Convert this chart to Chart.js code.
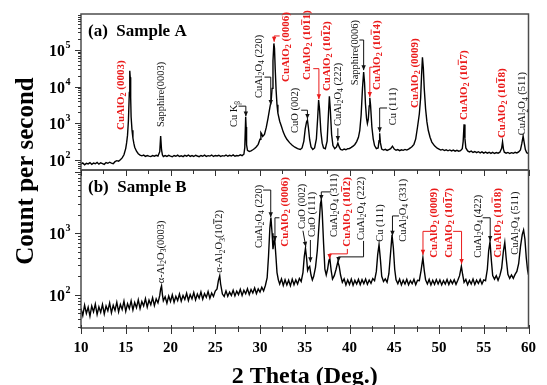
<!DOCTYPE html>
<html>
<head>
<meta charset="utf-8">
<script src="https://cdn.jsdelivr.net/npm/chart.js@4.4.1/dist/chart.umd.min.js"></script>
<style>
  body { margin: 0; background: #fff; }
  canvas { display: block; }
</style>
</head>
<body>
<canvas id="xrd" width="547" height="385"></canvas>
<script>
const FONT = '"Liberation Serif", "Times New Roman", serif';
const RED = '#ea1b1b';

// Sample A spectrum (2 theta, counts per second)
const thetaA = [
  10.0, 10.2, 10.4, 10.6, 10.8, 11.0, 11.2, 11.4, 11.6, 11.8, 12.0, 12.2, 12.4, 12.6, 12.8, 13.0, 13.2, 13.4, 13.6, 13.8,
  14.0, 14.2, 14.4, 14.6, 14.8, 15.0, 15.1, 15.2, 15.3, 15.4, 15.45, 15.5, 15.55, 15.6, 15.7, 15.8, 15.9, 16.0, 16.2, 16.4,
  16.6, 16.8, 17.0, 17.2, 17.4, 17.6, 17.8, 18.0, 18.2, 18.4, 18.6, 18.8, 18.9, 19.0, 19.1, 19.2, 19.4, 19.6, 19.8, 20.0,
  20.2, 20.4, 20.6, 20.8, 21.0, 21.2, 21.4, 21.6, 21.8, 22.0, 22.2, 22.4, 22.6, 22.8, 23.0, 23.2, 23.4, 23.6, 23.8, 24.0,
  24.2, 24.4, 24.6, 24.8, 25.0, 25.2, 25.4, 25.6, 25.8, 26.0, 26.2, 26.4, 26.6, 26.8, 27.0, 27.2, 27.4, 27.6, 27.8, 28.0,
  28.2, 28.3, 28.4, 28.45, 28.5, 28.6, 28.8, 29.0, 29.2, 29.4, 29.6, 29.8, 30.0, 30.1, 30.2, 30.3, 30.5, 30.7, 30.9, 31.1,
  31.25, 31.35, 31.45, 31.55, 31.62, 31.7, 31.8, 31.9, 32.0, 32.2, 32.4, 32.6, 32.8, 33.0, 33.3, 33.6, 33.9, 34.2, 34.5, 34.7,
  34.9, 35.05, 35.2, 35.3, 35.4, 35.55, 35.7, 35.9, 36.1, 36.3, 36.45, 36.55, 36.65, 36.8, 36.95, 37.1, 37.3, 37.5, 37.65, 37.75,
  37.85, 38.0, 38.15, 38.35, 38.55, 38.7, 38.85, 39.0, 39.2, 39.4, 39.6, 39.8, 40.0, 40.2, 40.4, 40.6, 40.8, 41.0, 41.15, 41.3,
  41.45, 41.58, 41.68, 41.78, 41.9, 42.0, 42.1, 42.2, 42.27, 42.35, 42.5, 42.65, 42.8, 43.0, 43.2, 43.3, 43.37, 43.45, 43.6, 43.8,
  44.0, 44.2, 44.4, 44.6, 44.8, 45.0, 45.2, 45.4, 45.6, 45.8, 46.0, 46.2, 46.4, 46.6, 46.8, 47.0, 47.2, 47.4, 47.6, 47.8,
  47.95, 48.05, 48.15, 48.25, 48.35, 48.5, 48.65, 48.8, 49.0, 49.2, 49.5, 49.8, 50.0, 50.2, 50.4, 50.6, 50.8, 51.0, 51.2, 51.4,
  51.6, 51.8, 52.0, 52.2, 52.4, 52.6, 52.7, 52.8, 52.9, 53.0, 53.2, 53.4, 53.6, 53.8, 54.0, 54.2, 54.4, 54.6, 54.8, 55.0,
  55.2, 55.4, 55.6, 55.8, 56.0, 56.2, 56.4, 56.6, 56.8, 57.0, 57.1, 57.2, 57.3, 57.5, 57.7, 57.9, 58.1, 58.3, 58.5, 58.7,
  58.9, 59.1, 59.25, 59.4, 59.5, 59.65, 59.8, 60.0
];
const countA = [
  78, 84, 75, 82, 79, 86, 77, 83, 80, 87, 78, 85, 81, 77, 86, 82, 88, 83, 80, 91,
  97, 94, 103, 115, 140, 210, 300, 480, 1200, 7000, 27000, 18000, 5000, 1500, 650, 400, 290, 225, 175, 150,
  138, 131, 137, 127, 134, 129, 125, 133, 128, 136, 130, 170, 450, 190, 138, 126, 133, 127, 135, 129,
  124, 134, 128, 137, 126, 132, 125, 135, 129, 138, 127, 133, 126, 136, 130, 125, 134, 128, 137, 127,
  133, 129, 138, 126, 134, 130, 136, 127, 133, 129, 138, 128, 135, 130, 139, 128, 134, 131, 140, 133,
  145, 220, 1500, 800, 260, 185, 172, 180, 192, 208, 232, 270, 370, 560, 510, 440, 500, 780, 1400, 2700,
  4200, 9000, 50000, 150000, 110000, 30000, 8000, 3200, 1900, 1150, 820, 580, 450, 370, 300, 255, 225, 205, 195, 215,
  330, 700, 1100, 1230, 800, 360, 230, 195, 215, 380, 1500, 4300, 2500, 600, 290, 215, 205, 330, 1800, 5500,
  2500, 500, 250, 205, 230, 290, 230, 196, 188, 200, 192, 205, 208, 222, 240, 268, 320, 420, 650, 1700,
  9000, 25000, 13000, 3500, 1400, 1000, 1300, 3000, 5000, 3200, 800, 380, 250, 205, 215, 340, 540, 300, 200, 188,
  197, 184, 195, 205, 240, 200, 186, 194, 182, 192, 185, 196, 188, 200, 215, 235, 270, 380, 800, 1800,
  5000, 20000, 63000, 32000, 9000, 2500, 1100, 650, 420, 310, 245, 212, 200, 188, 196, 183, 192, 180, 190, 178,
  188, 176, 186, 175, 182, 205, 320, 940, 380, 215, 178, 168, 176, 162, 172, 160, 170, 158, 168, 156,
  166, 155, 164, 153, 163, 152, 161, 155, 165, 210, 315, 200, 165, 155, 162, 152, 160, 154, 163, 157,
  168, 190, 280, 450, 320, 195, 160, 150
];

// Sample B spectrum
const thetaB = [
  10.0, 10.2, 10.4, 10.6, 10.8, 11.0, 11.2, 11.4, 11.6, 11.8, 12.0, 12.2, 12.4, 12.6, 12.8, 13.0, 13.2, 13.4, 13.6, 13.8,
  14.0, 14.2, 14.4, 14.6, 14.8, 15.0, 15.2, 15.4, 15.6, 15.8, 16.0, 16.2, 16.4, 16.6, 16.8, 17.0, 17.2, 17.4, 17.6, 17.8,
  18.0, 18.2, 18.4, 18.6, 18.8, 18.9, 19.0, 19.1, 19.2, 19.4, 19.6, 19.8, 20.0, 20.2, 20.4, 20.6, 20.8, 21.0, 21.2, 21.4,
  21.6, 21.8, 22.0, 22.2, 22.4, 22.6, 22.8, 23.0, 23.2, 23.4, 23.6, 23.8, 24.0, 24.2, 24.4, 24.6, 24.8, 25.0, 25.2, 25.35,
  25.5, 25.6, 25.8, 26.0, 26.2, 26.4, 26.6, 26.8, 27.0, 27.2, 27.4, 27.6, 27.8, 28.0, 28.2, 28.4, 28.6, 28.8, 29.0, 29.2,
  29.4, 29.6, 29.8, 30.0, 30.2, 30.4, 30.6, 30.8, 30.95, 31.1, 31.22, 31.35, 31.45, 31.55, 31.65, 31.78, 31.9, 32.05, 32.2, 32.4,
  32.6, 32.8, 33.0, 33.2, 33.4, 33.6, 33.8, 34.0, 34.2, 34.4, 34.6, 34.8, 34.95, 35.08, 35.2, 35.32, 35.45, 35.55, 35.7, 35.85,
  36.0, 36.2, 36.4, 36.6, 36.75, 36.85, 36.95, 37.1, 37.25, 37.4, 37.55, 37.7, 37.8, 37.95, 38.1, 38.3, 38.5, 38.7, 38.85, 39.0,
  39.2, 39.4, 39.6, 39.8, 40.0, 40.2, 40.4, 40.6, 40.8, 41.0, 41.2, 41.4, 41.6, 41.8, 42.0, 42.2, 42.4, 42.6, 42.8, 43.0,
  43.15, 43.3, 43.45, 43.6, 43.8, 44.0, 44.2, 44.4, 44.6, 44.75, 44.9, 45.05, 45.2, 45.4, 45.6, 45.8, 46.0, 46.2, 46.4, 46.6,
  46.8, 47.0, 47.2, 47.4, 47.6, 47.8, 48.0, 48.2, 48.35, 48.5, 48.7, 48.9, 49.1, 49.3, 49.5, 49.7, 49.9, 50.1, 50.3, 50.5,
  50.7, 50.9, 51.1, 51.3, 51.5, 51.7, 51.9, 52.1, 52.3, 52.5, 52.65, 52.8, 53.0, 53.2, 53.4, 53.6, 53.8, 54.0, 54.2, 54.4,
  54.6, 54.8, 55.0, 55.2, 55.4, 55.55, 55.7, 55.85, 56.0, 56.2, 56.4, 56.6, 56.8, 57.0, 57.2, 57.35, 57.5, 57.7, 57.9, 58.1,
  58.3, 58.5, 58.7, 58.9, 59.1, 59.3, 59.45, 59.6, 59.75, 59.9, 60.0
];
const countB = [
  60, 46, 68, 50, 63, 45, 66, 53, 71, 48, 64, 52, 70, 49, 66, 55, 74, 51, 68, 56,
  76, 53, 70, 58, 79, 54, 72, 60, 80, 57, 75, 62, 83, 60, 78, 66, 87, 63, 82, 69,
  90, 67, 86, 74, 98, 125, 140, 100, 80, 93, 73, 96, 78, 100, 76, 95, 81, 103, 79, 98,
  84, 106, 81, 101, 86, 109, 83, 103, 88, 111, 85, 105, 91, 113, 88, 107, 94, 115, 125, 170,
  204, 150, 103, 94, 116, 95, 111, 98, 119, 96, 115, 101, 123, 98, 119, 104, 126, 101, 122, 107,
  129, 105, 125, 111, 133, 116, 142, 190, 420, 1200, 1800, 1000, 550, 700, 780, 420, 230, 175, 150, 182,
  142, 176, 145, 173, 140, 180, 146, 175, 150, 185, 165, 230, 420, 570, 400, 250, 280, 290, 210, 175,
  200, 280, 520, 1400, 3000, 3470, 2200, 700, 260, 210, 260, 360, 390, 250, 180, 205, 260, 345, 290, 210,
  160, 182, 145, 175, 148, 180, 143, 172, 150, 178, 146, 176, 152, 181, 148, 174, 154, 184, 170, 240,
  450, 650, 380, 200, 165, 182, 160, 220, 500, 940, 580, 260, 175, 152, 180, 145, 172, 150, 178, 146,
  170, 152, 179, 146, 172, 170, 250, 400, 250, 175, 150, 178, 145, 172, 148, 177, 150, 175, 145, 170,
  150, 178, 147, 173, 152, 176, 148, 172, 205, 290, 210, 160, 178, 146, 172, 150, 180, 147, 173, 153,
  178, 150, 175, 170, 260, 520, 730, 360, 205, 180, 205, 172, 205, 270, 520, 710, 400, 215, 185, 210,
  185, 215, 240, 320, 600, 950, 1130, 800, 400, 250, 210
];

// axis ranges and labelled decades
const rangeA = [54, 950000];
const rangeB = [29, 10600];
const powsA = [2, 3, 4, 5];
const powsB = [2, 3];
const thetaTicks = [10, 15, 20, 25, 30, 35, 40, 45, 50, 55, 60];

// peak labels: x = 2theta, y = log10(count) of the text start; path = arrow in (2theta, log10)
const labelsA = [
  { t: 'CuAlO_2 (0003)', x: 14.51, y: 2.82, red: 1 },
  { t: 'Sapphire(0003)', x: 18.97, y: 2.90 },
  { t: 'Cu K_β', x: 27.16, y: 2.90, path: [[27.6, 3.47], [28.42, 3.47], [28.42, 3.19]] },
  { t: 'CuAl_2O_4 (220)', x: 29.91, y: 3.69, path: [[30.5, 4.26], [31.2, 4.26], [31.2, 3.5]] },
  { t: 'CuAlO_2 (0006)', x: 32.88, y: 4.13, red: 1, path: [[32.2, 5.38], [31.58, 5.38], [31.58, 5.22]] },
  { t: 'CuO (002)', x: 33.98, y: 2.74, path: [[34.6, 3.36], [35.3, 3.36], [35.3, 3.12]] },
  { t: 'CuAlO_2 (10~11)', x: 35.3, y: 4.18, red: 1, path: [[35.95, 4.49], [36.58, 4.49], [36.58, 3.66]] },
  { t: 'CuAlO_2 (10~12)', x: 37.5, y: 3.88, red: 1 },
  { t: 'CuAl_2O_4 (222)', x: 38.7, y: 2.93, path: [[38.7, 2.87], [38.7, 2.52]] },
  { t: 'Sapphire(0006)', x: 40.69, y: 4.04, path: [[41.1, 5.27], [41.58, 5.27], [41.58, 4.45]] },
  { t: 'CuAlO_2 (10~14)', x: 43.06, y: 3.91, red: 1, path: [[42.6, 4.53], [42.27, 4.53], [42.27, 3.72]] },
  { t: 'Cu (111)', x: 44.87, y: 2.95, path: [[44.2, 3.42], [43.37, 3.42], [43.37, 2.76]] },
  { t: 'CuAlO_2 (0009)', x: 47.29, y: 3.42, red: 1 },
  { t: 'CuAlO_2 (10~17)', x: 52.79, y: 3.09, red: 1 },
  { t: 'CuAlO_2 (10~18)', x: 57.08, y: 2.60, red: 1 },
  { t: 'CuAl_2O_4 (511)', x: 59.34, y: 2.68 }
];
const labelsB = [
  { t: 'α-Al_2O_3(0003)', x: 18.94, y: 2.19 },
  { t: 'α-Al_2O_3(10~12)', x: 25.48, y: 2.36 },
  { t: 'CuAl_2O_4 (220)', x: 29.88, y: 2.76, path: [[30.35, 3.70], [31.2, 3.70], [31.2, 3.26]] },
  { t: 'CuAlO_2 (0006)', x: 32.77, y: 2.78, red: 1, black: 1, path: [[32.17, 3.25], [31.67, 3.25], [31.67, 2.875]] },
  { t: 'CuO (002)', x: 34.75, y: 3.07, path: [[34.8, 3.04], [35.12, 2.78]] },
  { t: 'CuO (111)', x: 35.85, y: 2.94, path: [[35.63, 2.89], [35.63, 2.53]] },
  { t: 'CuAl_2O_4 (311)', x: 38.27, y: 2.94, path: [[37.83, 3.67], [36.85, 3.67], [36.85, 3.54]] },
  { t: 'CuAlO_2 (10~12)', x: 39.76, y: 2.78, red: 1, path: [[39.76, 2.745], [39.76, 2.665], [37.78, 2.665], [37.78, 2.583]] },
  { t: 'CuAl_2O_4 (222)', x: 41.32, y: 2.89, path: [[41.57, 2.875], [41.57, 2.616], [38.77, 2.616], [38.77, 2.535]] },
  { t: 'Cu (111)', x: 43.39, y: 2.86 },
  { t: 'CuAl_2O_4 (331)', x: 45.97, y: 2.86, path: [[45.53, 3.28], [44.8, 3.28], [44.8, 2.96]] },
  { t: 'CuAlO_2 (0009)', x: 49.49, y: 2.60, red: 1, path: [[49.11, 3.03], [48.21, 3.03], [48.21, 2.65]] },
  { t: 'CuAlO_2 (10~17)', x: 51.14, y: 2.60, red: 1, path: [[51.58, 3.03], [52.52, 3.03], [52.52, 2.50]] },
  { t: 'CuAl_2O_4 (422)', x: 54.37, y: 2.60, path: [[54.88, 3.25], [55.72, 3.25], [55.72, 2.875]] },
  { t: 'CuAlO_2 (10~18)', x: 56.57, y: 2.60, red: 1 },
  { t: 'CuAl_2O_4 (511)', x: 58.55, y: 2.65 }
];

function toPoints(xs, ys) {
  return xs.map((x, i) => ({ x: x, y: ys[i] }));
}

// text drawn bottom-to-top; "_c" = subscript, "~c" = overlined char
function drawRich(ctx, str, x, y, color, bold) {
  ctx.save();
  ctx.translate(x, y);
  ctx.rotate(-Math.PI / 2);
  ctx.fillStyle = color;
  ctx.textBaseline = 'middle';
  ctx.textAlign = 'left';
  const big = bold ? 'bold 11px ' + FONT : '10.5px ' + FONT;
  const small = bold ? 'bold 8px ' + FONT : '7.5px ' + FONT;
  let cx = 0;
  for (let i = 0; i < str.length; i++) {
    let ch = str[i];
    if (ch === '_') {
      ch = str[++i];
      ctx.font = small;
      ctx.fillText(ch, cx, 3);
      cx += ctx.measureText(ch).width;
      continue;
    }
    let bar = false;
    if (ch === '~') { ch = str[++i]; bar = true; }
    ctx.font = big;
    const w = ctx.measureText(ch).width;
    ctx.fillText(ch, cx, 0);
    if (bar) ctx.fillRect(cx, -6.2, w, 0.9);
    cx += w;
  }
  ctx.restore();
}

function drawArrow(ctx, pts, color) {
  ctx.save();
  ctx.strokeStyle = color;
  ctx.fillStyle = color;
  ctx.lineWidth = 1;
  ctx.beginPath();
  pts.forEach((p, i) => i ? ctx.lineTo(p[0], p[1]) : ctx.moveTo(p[0], p[1]));
  ctx.stroke();
  const a = pts[pts.length - 2], b = pts[pts.length - 1];
  const ang = Math.atan2(b[1] - a[1], b[0] - a[0]);
  ctx.translate(b[0], b[1]);
  ctx.rotate(ang);
  ctx.beginPath();
  ctx.moveTo(0, 0);
  ctx.lineTo(-5, -2.2);
  ctx.lineTo(-5, 2.2);
  ctx.closePath();
  ctx.fill();
  ctx.restore();
}

const decor = {
  id: 'decor',
  afterDatasetsDraw(chart) {
    const ctx = chart.ctx;
    const xs = chart.scales.x;
    const panels = [
      { s: chart.scales.yA, labels: labelsA, pows: powsA, name: '(a)  Sample A' },
      { s: chart.scales.yB, labels: labelsB, pows: powsB, name: '(b)  Sample B' }
    ];
    ctx.save();
    panels.forEach(p => {
      const s = p.s;
      // frame
      ctx.strokeStyle = '#4d4d4d';
      ctx.lineWidth = 1.5;
      ctx.strokeRect(xs.left, s.top, xs.right - xs.left, s.bottom - s.top);
      // log ticks on the left
      ctx.lineWidth = 1;
      ctx.strokeStyle = '#333';
      for (let d = Math.floor(Math.log10(s.min)); d <= Math.ceil(Math.log10(s.max)); d++) {
        for (let k = 1; k <= 9; k++) {
          const v = k * Math.pow(10, d);
          if (v < s.min || v > s.max) continue;
          const y = Math.round(s.getPixelForValue(v)) + 0.5;
          ctx.beginPath();
          ctx.moveTo(xs.left, y);
          ctx.lineTo(xs.left - (k === 1 ? 6 : 3), y);
          ctx.stroke();
        }
      }
      // decade labels
      ctx.fillStyle = '#000';
      ctx.textBaseline = 'alphabetic';
      ctx.textAlign = 'left';
      p.pows.forEach(e => {
        const y = s.getPixelForValue(Math.pow(10, e));
        ctx.font = 'bold 16px ' + FONT;
        const w1 = ctx.measureText('10').width;
        ctx.font = 'bold 10px ' + FONT;
        const w2 = ctx.measureText(String(e)).width;
        const x0 = xs.left - 11 - w1 - w2;
        ctx.font = 'bold 16px ' + FONT;
        ctx.fillText('10', x0, y + 6);
        ctx.font = 'bold 10px ' + FONT;
        ctx.fillText(String(e), x0 + w1 + 0.5, y - 2);
      });
      // panel name
      ctx.font = 'bold 17px ' + FONT;
      ctx.fillText(p.name, xs.left + 7, s.top + 22);
      // peak labels
      p.labels.forEach(l => {
        const col = l.red ? RED : '#111';
        drawRich(ctx, l.t, xs.getPixelForValue(l.x), s.getPixelForValue(Math.pow(10, l.y)), col, !!l.red);
        if (l.path) {
          const pts = l.path.map(q => [xs.getPixelForValue(q[0]), s.getPixelForValue(Math.pow(10, q[1]))]);
          drawArrow(ctx, pts, l.black ? '#111' : col);
        }
      });
    });
    // 2 theta ticks: bottom axis and panel boundary
    const yB = chart.scales.yB, yA = chart.scales.yA;
    ctx.strokeStyle = '#333';
    ctx.lineWidth = 1;
    for (let t = 10; t <= 60; t += 2.5) {
      const x = Math.round(xs.getPixelForValue(t)) + 0.5;
      const major = t % 5 === 0;
      ctx.beginPath();
      ctx.moveTo(x, yB.bottom - (major ? 3 : 2));
      ctx.lineTo(x, yB.bottom + (major ? 6 : 4));
      ctx.moveTo(x, yA.bottom);
      ctx.lineTo(x, yA.bottom + (major ? 6 : 4));
      ctx.stroke();
    }
    // y title
    ctx.save();
    ctx.translate(27, (yA.top + yB.bottom) / 2);
    ctx.rotate(-Math.PI / 2);
    ctx.font = 'bold 25px ' + FONT;
    ctx.textAlign = 'center';
    ctx.textBaseline = 'middle';
    ctx.fillStyle = '#000';
    ctx.fillText('Count per second', 0, 0);
    ctx.restore();
    ctx.restore();
  }
};

const yBase = {
  type: 'logarithmic',
  position: 'left',
  stack: 'xrd',
  grid: { display: false, drawTicks: false },
  border: { display: false },
  ticks: { display: false },
  afterFit: s => { s.width = 81; }
};

new Chart(document.getElementById('xrd'), {
  type: 'line',
  data: {
    datasets: [
      {
        label: 'Sample B',
        data: toPoints(thetaB, countB),
        xAxisID: 'x', yAxisID: 'yB',
        borderColor: '#000', borderWidth: 1.4, pointRadius: 0, tension: 0
      },
      {
        label: 'Sample A',
        data: toPoints(thetaA, countA),
        xAxisID: 'x', yAxisID: 'yA',
        borderColor: '#000', borderWidth: 1.4, pointRadius: 0, tension: 0
      }
    ]
  },
  options: {
    responsive: false,
    devicePixelRatio: 1,
    animation: false,
    events: [],
    layout: { padding: { left: 0, right: 11, top: 14, bottom: 0 } },
    plugins: { legend: { display: false }, tooltip: { enabled: false } },
    scales: {
      x: {
        type: 'linear',
        position: 'bottom',
        min: 10, max: 60,
        grid: { display: false, drawTicks: false },
        border: { display: false },
        afterBuildTicks: s => { s.ticks = thetaTicks.map(v => ({ value: v })); },
        ticks: {
          autoSkip: false, maxRotation: 0, padding: 11, color: '#000',
          font: { family: FONT, weight: 'bold', size: 15 }
        },
        title: {
          display: true, text: '2 Theta (Deg.)', color: '#000',
          font: { family: FONT, weight: 'bold', size: 24, lineHeight: 1 },
          padding: { top: 0, bottom: -4 }
        },
        afterFit: s => { s.height = 57; }
      },
      yB: Object.assign({}, yBase, { stackWeight: 158, min: rangeB[0], max: rangeB[1] }),
      yA: Object.assign({}, yBase, { stackWeight: 156, min: rangeA[0], max: rangeA[1] })
    }
  },
  plugins: [decor]
});
</script>
</body>
</html>
